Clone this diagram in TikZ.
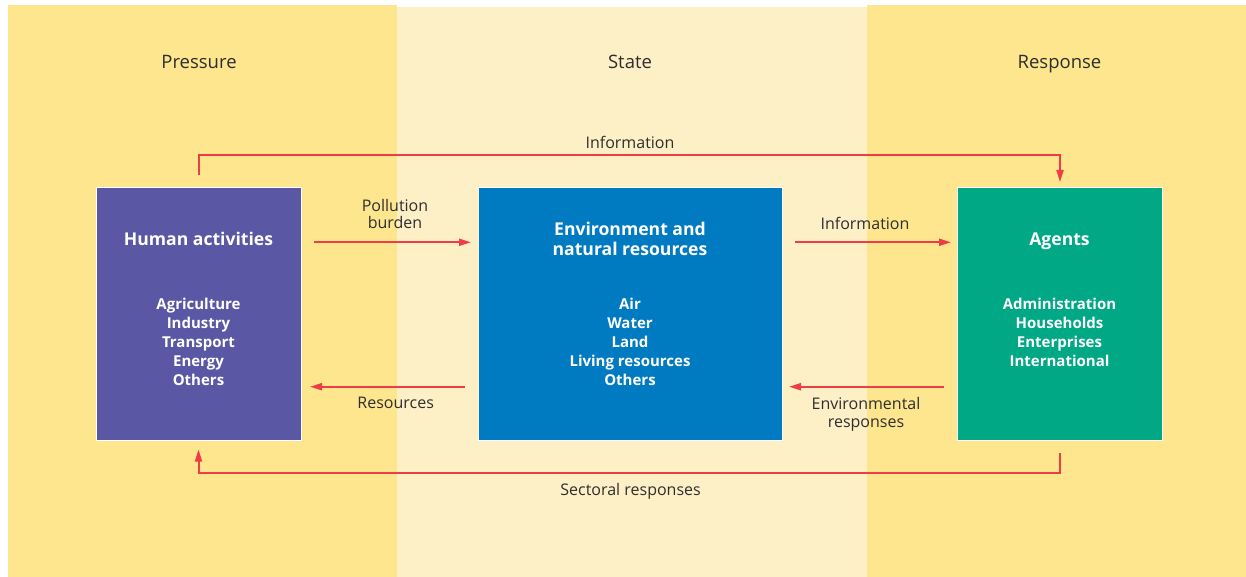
\documentclass[tikz,border=0pt]{standalone}
\usepackage{fontspec}
\setmainfont{Open Sans}
\usetikzlibrary{arrows.meta}

\definecolor{pressure}{HTML}{FDE68E}
\definecolor{state}{HTML}{FDEFC6}
\definecolor{human}{HTML}{5A57A4}
\definecolor{nature}{HTML}{007BC2}
\definecolor{agent}{HTML}{00A886}
\definecolor{flow}{HTML}{EE3D47}
\definecolor{ink}{HTML}{2E2E2E}

\begin{document}
\begin{tikzpicture}[x=1pt,y=-1pt,
    box/.style={draw=white,line width=1pt,inner sep=0pt,anchor=north west},
    head/.style={text=white,font=\fontsize{17.6}{20}\selectfont\bfseries,align=center,inner sep=0pt},
    items/.style={text=white,font=\fontsize{15}{19}\selectfont\bfseries,align=center,anchor=north,inner sep=0pt},
    lbl/.style={text=ink,font=\fontsize{16}{17}\selectfont,align=center,inner sep=0pt},
    title/.style={text=ink,font=\fontsize{18.5}{22}\selectfont,anchor=base,inner sep=0pt},
    way/.style={draw=flow,line width=2pt,-{Triangle[length=12pt,width=7pt]}}]
    \useasboundingbox (0,0) rectangle (1246,577);
    % Columns
    \fill[pressure] (8,5) rectangle (397,577);
    \fill[state] (397,7) rectangle (867,577);
    \fill[pressure] (867,5) rectangle (1246,577);
    \node[title] (pres) at (199,68.3) {Pressure};
    \node[title] (stat) at (630,68.3) {State};
    \node[title] (resp) at (1059.5,68.8) {Response};
    % Boxes
    \node[box,fill=human,minimum width=205pt,minimum height=253pt] (hum) at (96,187) {};
    \node[box,fill=nature,minimum width=304pt,minimum height=253pt] (env) at (478,187) {};
    \node[box,fill=agent,minimum width=205pt,minimum height=253pt] (agt) at (957,187) {};
    \node[head] (humh) at (198.5,239.3) {Human activities};
    \node[head] (envh) at (630,238.8) {Environment and\\natural resources};
    \node[head,anchor=base] (agth) at (1059.5,245.7) {Agents};
    \node[items] (huml) at (198.5,297.8) {Agriculture\\Industry\\Transport\\Energy\\Others};
    \node[items] (envl) at (630,297.8) {Air\\Water\\Land\\Living resources\\Others};
    \node[items] (agtl) at (1059.5,297.8) {Administration\\Households\\Enterprises\\International};
    % Points
    \coordinate (pb1) at (314,242.3);
    \coordinate (pb2) at (471,242.3);
    \coordinate (rs1) at (465,386.7);
    \coordinate (rs2) at (310,386.7);
    \coordinate (in1) at (795,242.3);
    \coordinate (in2) at (951,242.3);
    \coordinate (er1) at (944,386.7);
    \coordinate (er2) at (789,386.7);
    \coordinate (ti1) at (198.5,175);
    \coordinate (ti) at (630,155.3);
    \coordinate (ti2) at (1060,182);
    \coordinate (sr1) at (1060,453.3);
    \coordinate (sr) at (630,473.3);
    \coordinate (sr2) at (198.5,449.5);
    % Ways
    \draw[way] (pb1) -- (pb2);
    \draw[way] (rs1) -- (rs2);
    \draw[way] (in1) -- (in2);
    \draw[way] (er1) -- (er2);
    \draw[way] (ti1) |- (ti) -| (ti2);
    \draw[way] (sr1) |- (sr) -| (sr2);
    % Labels
    \node[lbl,anchor=base] (til) at (630,148.8) {Information};
    \node[lbl,font=\fontsize{16}{16.6}\selectfont] (pbl) at (395,213.9) {Pollution\\burden};
    \node[lbl,anchor=base] (inl) at (865,229.3) {Information};
    \node[lbl,anchor=base] (rsl) at (395.7,408.3) {Resources};
    \node[lbl,font=\fontsize{16}{18}\selectfont] (erl) at (866,414.1) {Environmental\\responses};
    \node[lbl,anchor=base] (srl) at (630.6,495) {Sectoral responses};
  \end{tikzpicture}
\end{document}
